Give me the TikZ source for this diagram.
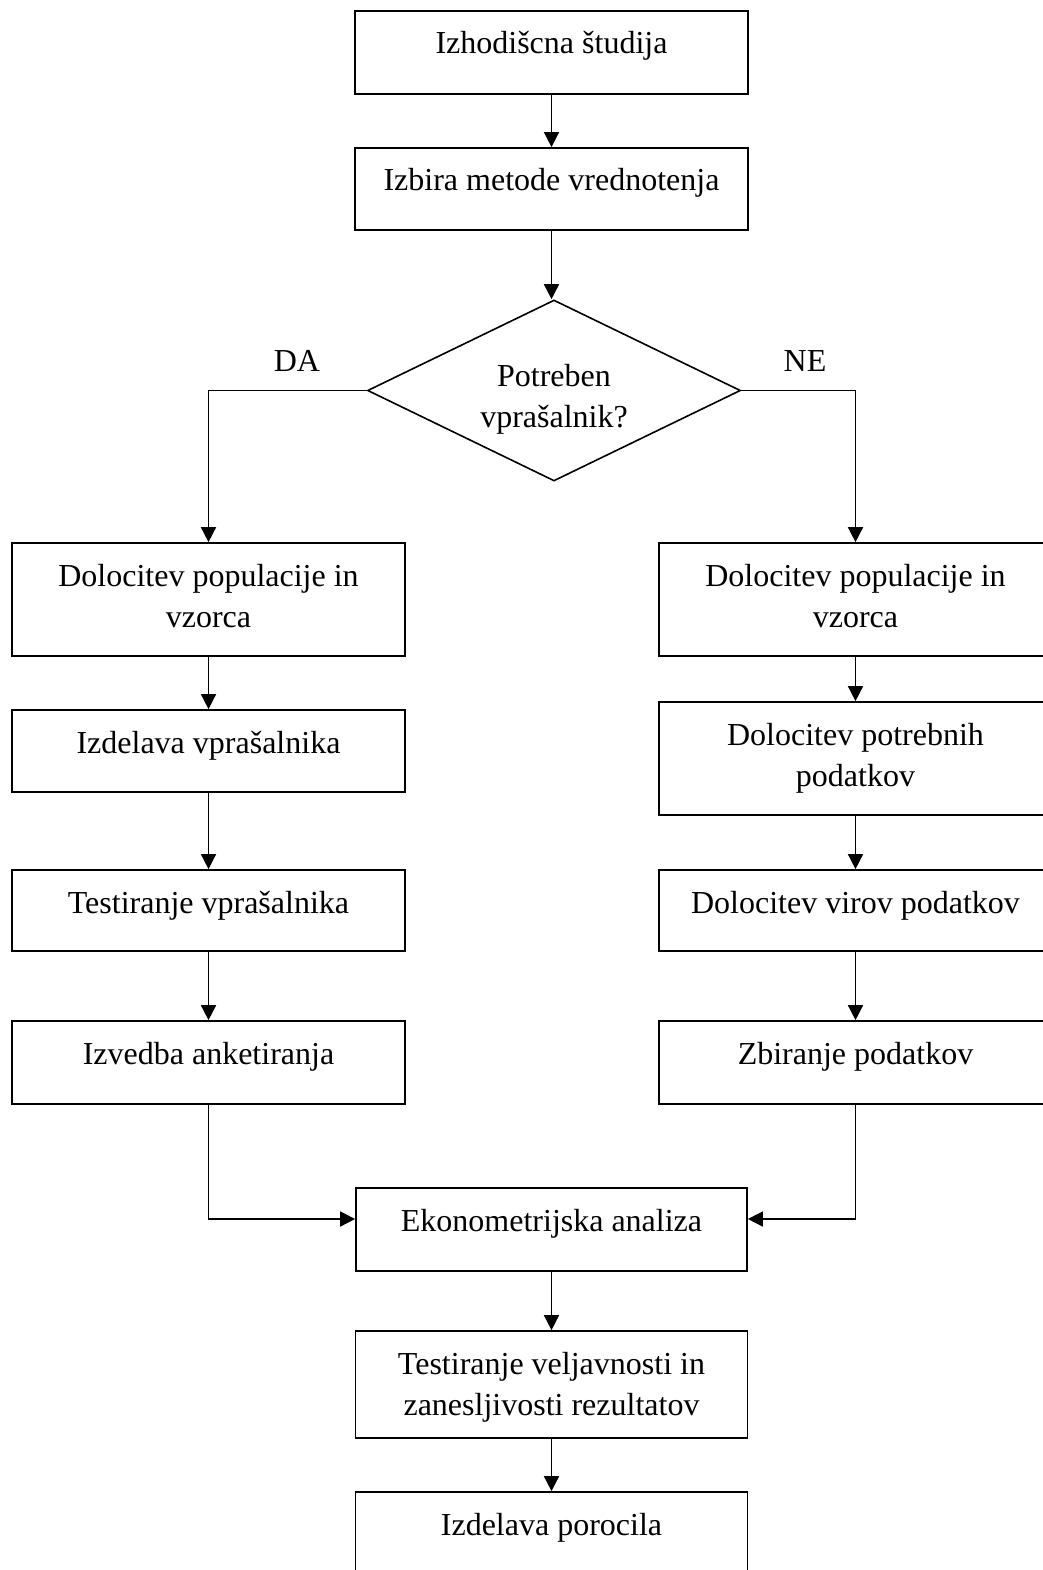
\documentclass[tikz,border=0pt]{standalone}
\usepackage{fontspec}
\setmainfont{Liberation Serif}
\usetikzlibrary{arrows.meta,shapes.geometric}
\newcommand{\bxt}[3]{\parbox[c][#2][t]{#1}{\centering\fontsize{32}{41}\selectfont\rule{0pt}{43pt}#3}}
\begin{document}
\begin{tikzpicture}[x=1pt,y=-1pt,
  box/.style={draw, line width=1.7pt, inner sep=0pt},
  arr/.style={line width=1.6pt, -{Triangle[length=15pt,width=15pt]}},
  lbl/.style={font=\fontsize{32}{41}\selectfont, inner sep=0pt}]
\useasboundingbox (0,0) rectangle (1042,1570);
% centre column
\node[box] (b1) at (551.5,52.5) {\bxt{393pt}{83pt}{Izhodišcna študija}};
\node[box] (b2) at (551.5,189) {\bxt{393pt}{82pt}{Izbira metode vrednotenja}};
\node[draw, diamond, shape aspect=2, line width=1.6pt, minimum width=373pt, minimum height=181pt, inner sep=0pt, align=center, font=\fontsize{32}{41}\selectfont] (d) at (554,390.5) {\rule{0pt}{39pt}Potreben\\vprašalnik?};
\node[lbl] (da) at (297,361) {DA};
\node[lbl] (ne) at (805,361) {NE};
% left column
\node[box] (L1) at (208.5,599.5) {\bxt{393pt}{113pt}{Dolocitev populacije in\\vzorca}};
\node[box] (L2) at (208.5,751) {\bxt{393pt}{82pt}{Izdelava vprašalnika}};
\node[box] (L3) at (208.5,910.5) {\bxt{393pt}{81pt}{Testiranje vprašalnika}};
\node[box] (L4) at (208.5,1062.5) {\bxt{393pt}{83pt}{Izvedba anketiranja}};
% right column
\node[box] (R1) at (855.5,599.5) {\bxt{393pt}{113pt}{Dolocitev populacije in\\vzorca}};
\node[box] (R2) at (855.5,758.5) {\bxt{393pt}{113pt}{Dolocitev potrebnih\\podatkov}};
\node[box] (R3) at (855.5,910.5) {\bxt{393pt}{81pt}{Dolocitev virov podatkov}};
\node[box] (R4) at (855.5,1062.5) {\bxt{393pt}{83pt}{Zbiranje podatkov}};
% bottom
\node[box] (E) at (551.5,1229.5) {\bxt{391pt}{83pt}{Ekonometrijska analiza}};
\node[box] (T) at (551.5,1384.5) {\bxt{392pt}{107pt}{Testiranje veljavnosti in\\zanesljivosti rezultatov}};
\node[box] (P) at (551.5,1533.5) {\bxt{392pt}{83pt}{Izdelava porocila}};
% connectors
\draw[arr] (b1.south) -- (b2.north);
\draw[arr] (b2.south) -- (b2.south |- d.north);
\draw[arr] (d.west) -| (L1.north);
\draw[arr] (d.east) -| (R1.north);
\draw[arr] (L1) -- (L2);
\draw[arr] (L2) -- (L3);
\draw[arr] (L3) -- (L4);
\draw[arr] (R1) -- (R2);
\draw[arr] (R2) -- (R3);
\draw[arr] (R3) -- (R4);
\draw[arr] (L4.south) |- ([yshift=10.5pt]E.west);
\draw[arr] (R4.south) |- ([yshift=10.5pt]E.east);
\draw[arr] (E.south) -- (T.north);
\draw[arr] (T.south) -- (P.north);
\end{tikzpicture}
\end{document}
